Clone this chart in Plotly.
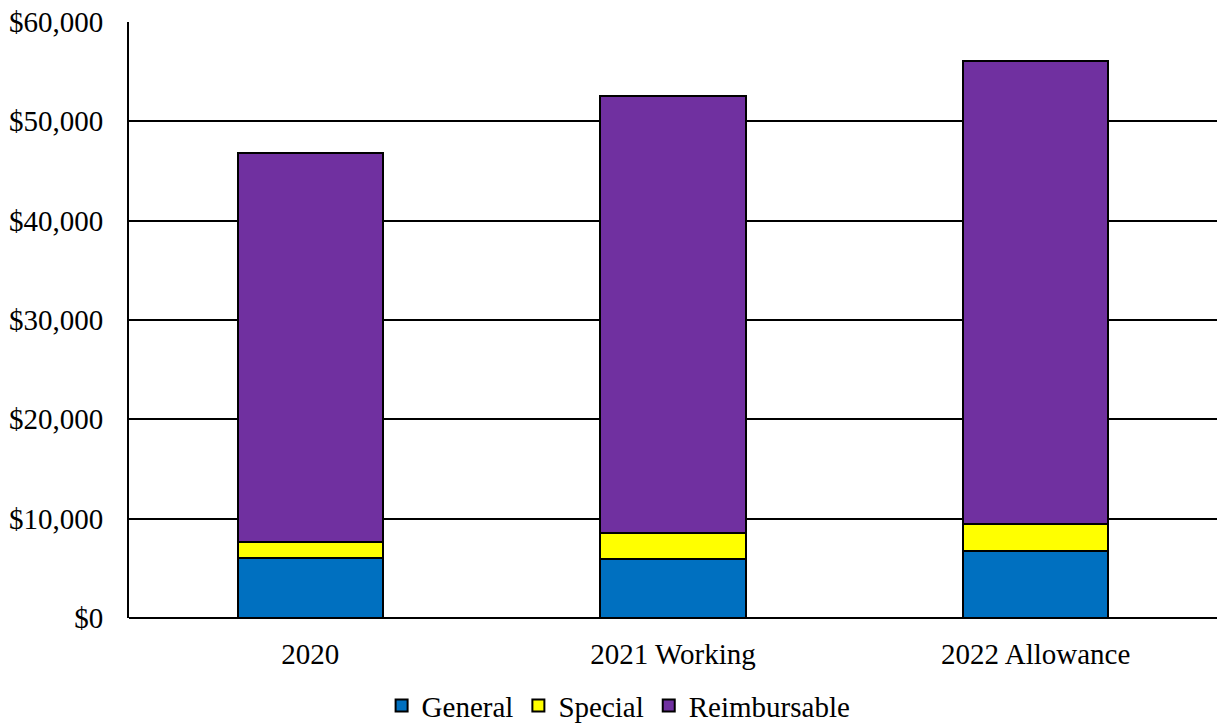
import plotly.graph_objects as go

categories = ["2020", "2021 Working", "2022 Allowance"]
general = [6070, 5900, 6770]
special = [1610, 2610, 2650]
reimbursable = [39160, 44040, 46650]
tick_vals = [0, 10000, 20000, 30000, 40000, 50000, 60000]
tick_text = ["$0", "$10,000", "$20,000", "$30,000", "$40,000", "$50,000", "$60,000"]

font_family = "Liberation Serif, Times New Roman, serif"
fs = 29

fig = go.Figure()
for name, vals, color in [("General", general, "#0070C0"),
                          ("Special", special, "#FFFF00"),
                          ("Reimbursable", reimbursable, "#7030A0")]:
    fig.add_trace(go.Bar(x=categories, y=vals, name=name, marker_color=color,
                         marker_line_color="black", marker_line_width=2))

fig.update_layout(
    barmode="stack",
    bargap=0.6,
    width=1217, height=724,
    margin=dict(l=129, r=0, t=22, b=106, autoexpand=False),
    paper_bgcolor="white", plot_bgcolor="white",
    font=dict(family=font_family, size=fs, color="black"),
    legend=dict(orientation="h", x=0.45, xanchor="center", y=-0.147, yanchor="middle",
                traceorder="normal",
                font=dict(family=font_family, size=fs, color="black"),
                itemwidth=30, tracegroupgap=0),
    xaxis=dict(showline=False, ticks="", ticklabelstandoff=16,
               tickfont=dict(family=font_family, size=fs)),
    yaxis=dict(range=[0, 60000], tickvals=tick_vals, ticktext=tick_text,
               showgrid=True, gridcolor="black", gridwidth=2,
               showline=True, linecolor="black", linewidth=2,
               zeroline=True, zerolinecolor="black", zerolinewidth=2,
               ticks="", ticklabelstandoff=18,
               tickfont=dict(family=font_family, size=fs)),
)

fig.write_html("out.html")
